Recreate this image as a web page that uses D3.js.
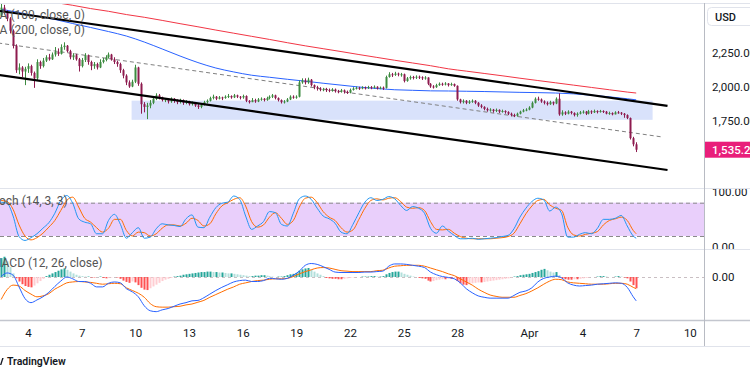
<!DOCTYPE html>
<html>
<head>
<meta charset="utf-8">
<script src="https://cdn.jsdelivr.net/npm/d3@7"></script>
<style>
  body { margin: 0; background: #fff; }
  svg { display: block; font-family: Roboto, "Noto Sans", sans-serif; }
</style>
</head>
<body>
<svg width="750" height="375"></svg>
<script>
// ETH/USD 4h candles, Mar 2 12:00 -> Apr 7 00:00 (UTC)
var start = Date.UTC(2025, 2, 2, 12),
    step = 4 * 3600e3,
    firstOpen = 2520;

var closes = [
  2580,2545,2500,2410,2300,2120,2140,2110,2130,2150,
  2100,2060,2180,2150,2190,2215,2200,2235,2255,2240,
  2290,2300,2260,2215,2230,2200,2150,2195,2230,2180,
  2150,2165,2140,2180,2195,2215,2235,2200,2180,2165,
  2120,2080,2030,2000,2035,2140,2020,1870,1850,1860,
  1880,1910,1935,1920,1900,1905,1890,1910,1895,1885,
  1900,1880,1890,1870,1880,1860,1850,1865,1885,1895,
  1915,1925,1910,1920,1915,1925,1930,1920,1935,1925,
  1920,1930,1895,1885,1900,1890,1905,1910,1900,1915,
  1925,1935,1915,1900,1885,1890,1905,1925,1920,1925,
  2030,2045,2030,2050,2010,1995,1985,1975,1980,1975,
  1970,1978,1965,1962,1972,1960,1955,1975,1985,1990,
  1985,1992,1988,1995,1990,1998,1985,1992,1990,2070,
  2090,2085,2095,2088,2090,2040,2060,2070,2065,2072,
  2068,2060,2066,2020,2000,1995,2010,2020,2015,2022,
  2010,2018,2005,1905,1885,1895,1880,1890,1895,1880,
  1860,1850,1835,1825,1830,1820,1828,1815,1820,1812,
  1800,1790,1785,1800,1815,1825,1830,1845,1880,1910,
  1905,1890,1880,1870,1885,1875,1910,1795,1810,1800,
  1815,1805,1790,1800,1810,1815,1800,1818,1810,1820,
  1812,1820,1815,1800,1805,1795,1810,1808,1800,1790,
  1768,1620,1575,1535.2
];
var highs = [
  2610,2600,2560,2510,2420,2310,2170,2150,2145,2170,
  2160,2110,2200,2190,2210,2230,2240,2250,2290,2280,
  2310,2325,2305,2270,2245,2240,2210,2210,2245,2235,
  2190,2180,2175,2200,2210,2230,2250,2240,2215,2190,
  2175,2130,2090,2045,2050,2160,2145,2030,1885,1880,
  1900,1925,1950,1945,1925,1915,1910,1920,1915,1905,
  1910,1905,1900,1895,1890,1885,1870,1875,1895,1905,
  1925,1940,1930,1930,1925,1935,1945,1935,1945,1940,
  1930,1940,1935,1900,1915,1910,1915,1920,1915,1925,
  1935,1945,1940,1920,1905,1900,1915,1935,1935,1935,
  2045,2060,2060,2065,2055,2015,2005,1995,1990,1990,
  1985,1988,1985,1975,1982,1978,1970,1985,1995,2000,
  1998,2002,2000,2005,2003,2008,2002,2000,2000,2080,
  2105,2100,2108,2102,2100,2095,2070,2080,2078,2082,
  2080,2075,2076,2068,2025,2010,2020,2030,2028,2032,
  2025,2028,2022,2008,1910,1905,1900,1900,1905,1900,
  1885,1870,1855,1845,1840,1835,1838,1832,1830,1825,
  1818,1808,1800,1808,1822,1835,1840,1855,1890,1920,
  1925,1912,1898,1890,1895,1890,1920,1950,1825,1818,
  1825,1820,1810,1810,1820,1825,1820,1828,1825,1830,
  1825,1828,1825,1820,1815,1810,1818,1820,1812,1805,
  1795,1772,1630,1590
];
var lows = [
  2510,2530,2480,2390,2280,2100,2090,2070,2010,2100,
  2080,1990,2040,2130,2140,2180,2190,2195,2220,2225,
  2235,2270,2250,2200,2195,2190,2110,2140,2180,2160,
  2120,2130,2125,2135,2170,2185,2205,2190,2165,2145,
  2100,2060,2010,1990,1995,2025,2005,1800,1810,1760,
  1840,1870,1900,1905,1890,1885,1875,1880,1880,1870,
  1875,1865,1870,1860,1860,1850,1835,1840,1860,1875,
  1890,1905,1900,1905,1900,1910,1915,1910,1915,1915,
  1905,1910,1885,1875,1885,1880,1885,1895,1890,1895,
  1905,1915,1905,1890,1875,1875,1885,1900,1910,1910,
  1920,2020,2015,2020,2000,1980,1970,1965,1965,1960,
  1958,1962,1955,1950,1955,1948,1945,1950,1970,1978,
  1975,1980,1978,1982,1980,1985,1978,1980,1975,1985,
  2065,2070,2078,2075,2072,2030,2035,2050,2052,2055,
  2055,2048,2050,2010,1990,1985,1990,2005,2005,2008,
  2000,2005,1998,1895,1875,1875,1870,1872,1880,1870,
  1850,1840,1825,1815,1815,1808,1812,1805,1808,1800,
  1790,1780,1775,1778,1795,1810,1818,1825,1840,1875,
  1895,1880,1868,1860,1865,1862,1870,1785,1785,1790,
  1795,1795,1780,1778,1795,1800,1790,1795,1798,1805,
  1802,1808,1805,1795,1792,1788,1795,1800,1790,1770,
  1760,1610,1560,1518
];

// moving averages, read every 6th candle
var ma100Idx = d3.range(0, 211, 6).concat([213]);
var ma100 = [2568,2544,2518,2493,2463,2434,2404,2371,2327,2276,2224,2176,2136,2107,2083,
  2068,2053,2039,2024,2010,1996,1985,1976,1972,1968,1967,1965,1963,1960,1957,1955,1952,
  1946,1936,1924,1910,1902];
var ma200Idx = d3.range(18, 211, 6).concat([213]);
var ma200 = [2618,2597,2573,2553,2529,2509,2486,2462,2439,2415,2392,2369,2346,2322,2299,
  2278,2257,2235,2214,2193,2173,2153,2130,2113,2096,2079,2061,2044,2027,2010,1993,1976,
  1959,1952];

// oscillators, read every 2nd candle
var lineIdx = d3.range(0, 213, 2).concat([213]);
var stochK = [81,79,56,19,12,17,24,34,44,61, 84,93,79,51,45,42,24,24,48,59,
  41,16,26,35,16,18,33,42,40,39, 37,51,58,36,35,54,71,79,81,92,
  86,56,32,38,46,64,62,41,38,61, 87,92,86,70,56,51,43,27,24,41,
  62,81,89,84,86,91,87,75,66,73, 70,61,34,25,38,29,21,15,15,16,
  14,15,16,17,19,21,33,54,70,82, 88,85,65,72,60,18,18,23,26,24,
  34,50,50,52,57,38,20,16];
var stochD = [84,82,68,40,20,13,17,25,36,48, 66,84,90,72,52,45,35,27,34,50,
  50,30,20,27,26,20,24,34,40,40, 38,43,52,48,38,42,60,74,80,86,
  89,74,46,36,40,54,62,52,41,48, 72,88,90,80,64,54,48,35,27,31,
  50,70,84,87,85,88,89,82,72,70, 71,66,46,32,31,32,25,19,16,15,
  15,15,15,16,17,19,25,42,60,74, 84,86,76,70,66,36,22,20,23,25,
  28,40,48,51,54,48,30,24];
var macdLine = [1,9,4,-22,-48,-57,-51,-44,-34,-21, -9,0,-4,-10,-10,-14,-22,-22,-14,-11,
  -13,-26,-33,-44,-64,-75,-77,-73,-70,-65, -60,-57,-53,-52,-46,-38,-30,-23,-17,-11,
  -8,-7,-10,-10,-8,-3,-4,-5,-3,4, 13,26,30,28,23,17,11,10,10,10,
  10,11,11,12,13,24,29,29,28,26, 24,21,11,5,1,-1,-4,-13,-26,-35,
  -42,-45,-47,-47,-47,-47,-41,-34,-31,-24, -11,-3,0,2,-2,-13,-18,-20,-19,-18,
  -16,-15,-14,-13,-14,-23,-44,-53];
var signalLine = [-50,-28,-18,-20,-30,-38,-44,-42,-37,-27, -20,-13,-11,-10,-11,-12,-14,-16,-15,-14,
  -15,-24,-30,-36,-45,-59,-66,-67,-67,-66, -65,-62,-60,-56,-52,-45,-39,-33,-27,-22,
  -16,-13,-10,-8,-7,-5,-4,-4,-3,1, 7,12,16,20,21,20,17,14,13,12,
  12,12,12,14,15,20,24,25,26,26, 26,24,20,16,12,7,3,-4,-11,-18,
  -27,-34,-40,-43,-45,-45,-45,-41,-37,-31, -24,-16,-9,-5,-6,-11,-13,-14,-15,-16,
  -16,-16,-15,-14,-14,-16,-23,-26];
var macdHist = [
  42,45,35,22,8,-3,-10,-16,-20,-22, -23,-19,-14,-9,-4,2,5,8,11,14,
  17,19,16,12,8,5,3,2,1,1, -1,-1,0,1,-2,-3,-2,-1,0,-1,
  -4,-8,-11,-13,-10,-12,-18,-24,-28,-29, -25,-21,-17,-13,-9,-6,-4,-2,1,2,
  3,5,6,7,8,9,10,11,11,12, 12,11,11,10,10,9,8,8,7,6,
  5,4,3,2,2,3,3,4,4,3, 2,1,0,1,1,2,4,6,7,9,
  14,17,19,20,16,12,8,5,2,-2, -3,-4,-4,-5,-5,-4,-3,-2,-1,0,
  0,1,1,1,2,2,1,1,2,6, 9,11,12,12,10,7,5,3,1,0,
  -2,-3,-4,-8,-10,-9,-7,-6,-5,-5, -4,-4,-3,-9,-14,-17,-18,-16,-14,-13,
  -12,-12,-11,-10,-9,-8,-7,-6,-5,-4, -3,-1,1,2,4,5,6,7,9,11,
  13,16,18,15,12,10,11,4,-3,-5, -6,-6,-5,-5,-4,-3,-2,-1,0,0,
  1,2,2,1,0,0,1,2,1,-1, -3,-10,-18,-25
];

// drawings: channel, midline, support zone
var channelTop = [[Date.UTC(2025, 2, 2, 8), 2557], [Date.UTC(2025, 3, 8, 18), 1857]];
var channelBottom = [[Date.UTC(2025, 2, 2, 8), 2085], [Date.UTC(2025, 3, 8, 18), 1386]];
var channelMid = [[Date.UTC(2025, 2, 2, 8), 2320], [Date.UTC(2025, 3, 8, 12), 1628]];
var zoneTimes = [Date.UTC(2025, 2, 9, 19), Date.UTC(2025, 3, 7, 22)];
var zonePrices = [1896, 1755];

var priceTicks = [1750, 2000, 2250];
var stochTicks = [0, 100];
var macdTicks = [0];
var dayTicks = ["2025-03-04","2025-03-07","2025-03-10","2025-03-13","2025-03-16","2025-03-19",
  "2025-03-22","2025-03-25","2025-03-28","2025-04-01","2025-04-04","2025-04-07","2025-04-10"];

var svg = d3.select("svg"),
    axisX = 704,
    main = {top: 3, bottom: 188},
    stp = {top: 188, bottom: 249},
    mcp = {top: 249, bottom: 320},
    timeBottom = 346;

var green = "#3d8b40", maroon = "#8e1b4f";

var x = d3.scaleUtc()
    .domain([Date.UTC(2025, 2, 4), Date.UTC(2025, 3, 7)])
    .range([28, 636.2]);
var y = d3.scaleLinear().domain([1750, 2250]).range([120.5, 52.5]);
var ys = d3.scaleLinear().domain([20, 80]).range([236, 202.7]);
var ym = d3.scaleLinear().domain([-100, 0]).range([322, 277]);
var tOf = function(i) { return new Date(start + i * step); };

var candles = closes.map(function(c, i) {
    return {t: tOf(i), o: i ? closes[i - 1] : firstOpen, h: highs[i], l: lows[i], c: c};
});

var defs = svg.append("defs");
function clip(id, x0, y0, w, h) {
    defs.append("clipPath").attr("id", id).append("rect")
        .attr("x", x0).attr("y", y0).attr("width", w).attr("height", h);
}
clip("cMain", 0, main.top, axisX, main.bottom - main.top);
clip("cStoch", 0, stp.top, axisX, stp.bottom - stp.top);
clip("cMacd", 0, mcp.top, axisX, mcp.bottom - mcp.top);
clip("cStochAx", axisX, stp.top + 1, 46, stp.bottom - stp.top - 1);

// ---- main pane
var gm = svg.append("g").attr("clip-path", "url(#cMain)");

gm.append("rect")
    .attr("x", x(zoneTimes[0])).attr("width", x(zoneTimes[1]) - x(zoneTimes[0]))
    .attr("y", y(zonePrices[0])).attr("height", y(zonePrices[1]) - y(zonePrices[0]))
    .attr("fill", "#d9e2fb");

var seg = d3.line().x(function(d) { return x(d[0]); }).y(function(d) { return y(d[1]); });
gm.append("path").attr("d", seg(channelMid)).attr("fill", "none")
    .attr("stroke", "#808080").attr("stroke-width", 1).attr("stroke-dasharray", "4,3");

var maLine = function(idx) {
    return d3.line().curve(d3.curveMonotoneX)
        .x(function(d, k) { return x(tOf(idx[k])); })
        .y(function(d) { return y(d); });
};
gm.append("path").attr("d", maLine(ma200Idx)(ma200)).attr("fill", "none")
    .attr("stroke", "#f23645").attr("stroke-width", 1);
gm.append("path").attr("d", maLine(ma100Idx)(ma100)).attr("fill", "none")
    .attr("stroke", "#2962ff").attr("stroke-width", 1);

var cg = gm.append("g");
cg.selectAll("line").data(candles).join("line")
    .attr("x1", function(d) { return Math.round(x(d.t)) + 0.5; })
    .attr("x2", function(d) { return Math.round(x(d.t)) + 0.5; })
    .attr("y1", function(d) { return y(d.h); })
    .attr("y2", function(d) { return y(d.l); })
    .attr("stroke", function(d) { return d.c >= d.o ? green : maroon; })
    .attr("stroke-width", 1);
cg.selectAll("rect").data(candles).join("rect")
    .attr("x", function(d) { return Math.round(x(d.t)) - 0.5; })
    .attr("width", 2)
    .attr("y", function(d) { return y(Math.max(d.o, d.c)); })
    .attr("height", function(d) { return Math.max(1, Math.abs(y(d.o) - y(d.c))); })
    .attr("fill", function(d) { return d.c >= d.o ? green : maroon; });

[channelTop, channelBottom].forEach(function(c) {
    gm.append("path").attr("d", seg(c)).attr("fill", "none")
        .attr("stroke", "#000").attr("stroke-width", 2.2);
});

var legendColor = "#555";
gm.append("text").attr("x", -11).attr("y", 19).attr("font-size", 12).attr("fill", legendColor)
    .text("MA (100, close, 0)");
gm.append("text").attr("x", -11).attr("y", 34).attr("font-size", 12).attr("fill", legendColor)
    .text("MA (200, close, 0)");

// ---- stochastic pane
var gs = svg.append("g").attr("clip-path", "url(#cStoch)");
gs.append("rect").attr("x", 0).attr("width", axisX)
    .attr("y", ys(80)).attr("height", ys(20) - ys(80)).attr("fill", "#e9cffb");
[80, 20].forEach(function(v) {
    gs.append("line").attr("x1", 0).attr("x2", axisX)
        .attr("y1", ys(v) + 0.5).attr("y2", ys(v) + 0.5)
        .attr("stroke", "#8a8a8a").attr("stroke-dasharray", "4,3");
});
var oscLine = function(scale) {
    return d3.line().curve(d3.curveMonotoneX)
        .x(function(d, k) { return x(tOf(lineIdx[k])); })
        .y(function(d) { return scale(d); });
};
gs.append("path").attr("d", oscLine(ys)(stochD)).attr("fill", "none")
    .attr("stroke", "#ff6d00").attr("stroke-width", 1);
gs.append("path").attr("d", oscLine(ys)(stochK)).attr("fill", "none")
    .attr("stroke", "#2196f3").attr("stroke-width", 1);
gs.append("text").attr("x", -12).attr("y", 205).attr("font-size", 12).attr("fill", legendColor)
    .text("Stoch (14, 3, 3)");

// ---- MACD pane
var gd = svg.append("g").attr("clip-path", "url(#cMacd)");
gd.append("line").attr("x1", 0).attr("x2", axisX)
    .attr("y1", ym(0) + 0.5).attr("y2", ym(0) + 0.5)
    .attr("stroke", "#c9bfc3").attr("stroke-dasharray", "3,3");
gd.selectAll("rect").data(macdHist).join("rect")
    .attr("x", function(d, i) { return Math.round(x(tOf(i))) - 0.5; })
    .attr("width", 2)
    .attr("y", function(d) { return d >= 0 ? ym(d) : ym(0); })
    .attr("height", function(d) { return Math.abs(ym(d) - ym(0)); })
    .attr("fill", function(d, i) {
        var prev = i ? macdHist[i - 1] : d;
        if (d >= 0) return d >= prev ? "#26a69a" : "#b2dfdb";
        return d <= prev ? "#ff5252" : "#ffcdd2";
    });
gd.append("path").attr("d", oscLine(ym)(signalLine)).attr("fill", "none")
    .attr("stroke", "#ff6d00").attr("stroke-width", 1);
gd.append("path").attr("d", oscLine(ym)(macdLine)).attr("fill", "none")
    .attr("stroke", "#2962ff").attr("stroke-width", 1);
gd.append("text").attr("x", -9).attr("y", 267).attr("font-size", 12).attr("fill", legendColor)
    .text("MACD (12, 26, close)");

// ---- separators
var sep = svg.append("g");
[[main.top, "#e0e3eb"], [stp.top, "#e0e3eb"], [mcp.top, "#e0e3eb"], [timeBottom, "#e0e3eb"]].forEach(function(s) {
    sep.append("line").attr("x1", 0).attr("x2", 750).attr("y1", s[0] + 0.5).attr("y2", s[0] + 0.5)
        .attr("stroke", s[1]);
});
sep.append("line").attr("x1", 0).attr("x2", 750).attr("y1", mcp.bottom + 0.5).attr("y2", mcp.bottom + 0.5)
    .attr("stroke", "#c3c6ce").attr("stroke-width", 1.5);
sep.append("line").attr("x1", axisX + 0.5).attr("x2", axisX + 0.5).attr("y1", main.top).attr("y2", timeBottom)
    .attr("stroke", "#b8bbc3");

// ---- axes
function styleAxis(g) {
    g.select(".domain").remove();
    g.selectAll("text").attr("font-size", 11.5).attr("fill", "#131722")
        .attr("font-family", "Roboto, 'Noto Sans', sans-serif");
}
var fmt = d3.format(",.2f");
svg.append("g").attr("transform", "translate(" + axisX + ",0)")
    .call(d3.axisRight(y).tickValues(priceTicks).tickFormat(fmt).tickSize(0).tickPadding(8))
    .call(styleAxis);
svg.append("g").attr("clip-path", "url(#cStochAx)").append("g")
    .attr("transform", "translate(" + axisX + ",0)")
    .call(d3.axisRight(ys).tickValues(stochTicks).tickFormat(fmt).tickSize(0).tickPadding(8))
    .call(styleAxis);
svg.append("g").attr("transform", "translate(" + axisX + ",0)")
    .call(d3.axisRight(ym).tickValues(macdTicks).tickFormat(fmt).tickSize(0).tickPadding(8))
    .call(styleAxis);
svg.append("g").attr("transform", "translate(0," + (mcp.bottom + 5) + ")")
    .call(d3.axisBottom(x).tickValues(dayTicks.map(function(s) { return new Date(s + "T00:00:00Z"); }))
        .tickSize(0).tickPadding(4)
        .tickFormat(function(d) { return d.getUTCDate() === 1 ? d3.utcFormat("%b")(d) : d.getUTCDate(); }))
    .call(styleAxis);

// USD label
svg.append("rect").attr("x", 707.5).attr("y", 7.5).attr("width", 50).attr("height", 18).attr("rx", 4)
    .attr("fill", "#fff").attr("stroke", "#e0e3eb");
svg.append("text").attr("x", 715).attr("y", 20.5).attr("font-size", 11).attr("font-weight", 500)
    .attr("fill", "#131722").text("USD");

// last price label
var last = closes[closes.length - 1];
svg.append("rect").attr("x", axisX + 1).attr("y", y(last) - 8).attr("width", 46).attr("height", 16)
    .attr("fill", "#e91e7a");
svg.append("text").attr("x", axisX + 8).attr("y", y(last)).attr("dy", "0.35em")
    .attr("font-size", 11.5).attr("font-weight", 500).attr("fill", "#fff").text(fmt(last));

// TradingView mark
svg.append("path").attr("d", "M0,365 L2.2,358 L3.6,358 L1.4,365 Z").attr("fill", "#131722");
svg.append("text").attr("x", 7).attr("y", 365).attr("font-size", 10.5).attr("font-weight", 600)
    .attr("fill", "#131722").text("TradingView");
</script>
</body>
</html>
